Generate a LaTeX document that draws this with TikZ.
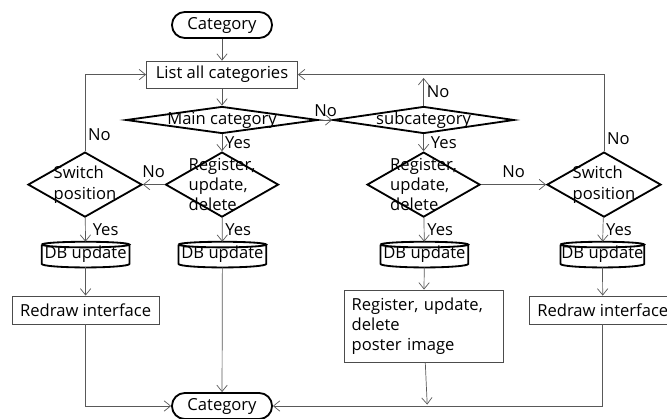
\documentclass[tikz,border=0pt]{standalone}
\usepackage{fontspec}
\setmainfont{Open Sans}
\usetikzlibrary{shapes.geometric,arrows.meta,calc}

\begin{document}
\begin{tikzpicture}[->,>={Straight Barb[length=1.6mm,width=2.6mm]},line width=0.5pt,
                    every node/.style={font=\fontsize{11.8}{14.4}\selectfont},
                    terminal/.style={draw=black,line width=1.3pt,rounded corners=3.2mm,minimum width=2.5cm,minimum height=0.65cm,inner sep=0pt},
                    process/.style={draw=black!70,line width=0.6pt,minimum height=0.7cm,inner sep=0pt},
                    decision/.style={diamond,draw=black,line width=1.3pt,inner sep=0pt,aspect=1},
                    dbase/.style={inner sep=0pt,minimum height=0.625cm,minimum width=2.175cm},
                    yn/.style={font=\fontsize{11.8}{14.4}\selectfont,inner sep=2pt}]

  \useasboundingbox (0,0) rectangle (16.675,10.475);

  \node[terminal] (start) at (5.55,9.85) {Category};
  \node[process,minimum width=3.775cm,minimum height=0.675cm] (list) at (5.55,8.61) {List all categories};

  \node[decision,minimum width=4.8cm,minimum height=0.675cm,label={center:Main category}] (main) at (5.55,7.475) {};
  \node[decision,minimum width=4.525cm,minimum height=0.675cm,label={center:subcategory}] (sub) at (10.59,7.475) {};

  \node[decision,minimum width=2.825cm,minimum height=1.625cm,label={[align=left]center:Register,\\update,\\delete}] (reg1) at (5.55,5.86) {};
  \node[decision,minimum width=2.85cm,minimum height=1.625cm,label={[align=left]center:Switch\\position}] (sw1) at (2.125,5.86) {};
  \node[decision,minimum width=2.825cm,minimum height=1.625cm,label={[align=left]center:Register,\\update,\\delete}] (reg2) at (10.59,5.86) {};
  \node[decision,minimum width=2.85cm,minimum height=1.625cm,label={[align=left]center:Switch\\position}] (sw2) at (15.1,5.86) {};

  \node[dbase] (db1) at (2.14,4.11) {DB update};
  \node[dbase] (db2) at (5.56,4.11) {DB update};
  \node[dbase] (db3) at (10.61,4.11) {DB update};
  \node[dbase,minimum width=2.075cm] (db4) at (15.06,4.11) {DB update};

  % drum outlines round the DB nodes
  \foreach \db in {db1,db2,db3,db4}
    \draw[-,line width=1.3pt] let \p1=(\db.north west), \p2=(\db.south east), \n1={(\x2-\x1)/2} in
      (\x1,\y1-2pt) -- (\x1,\y2+2.5pt) arc[start angle=180,end angle=360,x radius=\n1,y radius=2.5pt] -- (\x2,\y1-2pt)
      (\x1,\y1-2pt) arc[start angle=180,end angle=-180,x radius=\n1,y radius=2pt];

  \node[process,minimum width=3.675cm] (redraw1) at (2.14,2.725) {Redraw interface};
  \node[process,minimum width=3.675cm] (redraw2) at (15.07,2.725) {Redraw interface};
  \node[process,minimum width=3.975cm,minimum height=1.8cm,text width=3.6cm,align=left] (poster) at (10.59,2.325)
    {Register, update,\\delete\\poster image};

  \node[terminal] (stop) at (5.55,0.325) {Category};

  \coordinate (subup) at (10.59,8.525);
  \coordinate (posterend) at (10.68,0.36);

  \path[draw=black!65]
    (start) edge (list)
    (list) edge (main)
    (main) edge node[yn,above] {No} (sub)
           edge node[yn,right] {Yes} (reg1)
    (sub) edge node[yn,right] {No} (subup)
          edge node[yn,right=3pt] {Yes} (reg2)
    (reg1) edge node[yn,above=3pt] {No} (sw1)
           edge node[yn,right] {Yes} (db2)
    (reg2) edge node[yn,above=3pt] {No} (sw2)
           edge node[yn,right] {Yes} (db3)
    (sw1) edge node[yn,right=3pt] {Yes} (db1)
    (sw2) edge node[yn,right] {Yes} (db4)
    (db1) edge (redraw1)
    (db2) edge (stop)
    (db3) edge (poster)
    (db4) edge (redraw2)
    (poster) edge (posterend);

  \draw[draw=black!65] (sw1.north) |- node[yn,pos=0.11,right] {No} (list.west);
  \draw[draw=black!65] (sw2.north) |- node[yn,pos=0.08,right] {No} (list.east);
  \draw[draw=black!65] (redraw1.south) |- (stop.west);
  \draw[draw=black!65] (redraw2.south) |- (stop.east);
\end{tikzpicture}
\end{document}
